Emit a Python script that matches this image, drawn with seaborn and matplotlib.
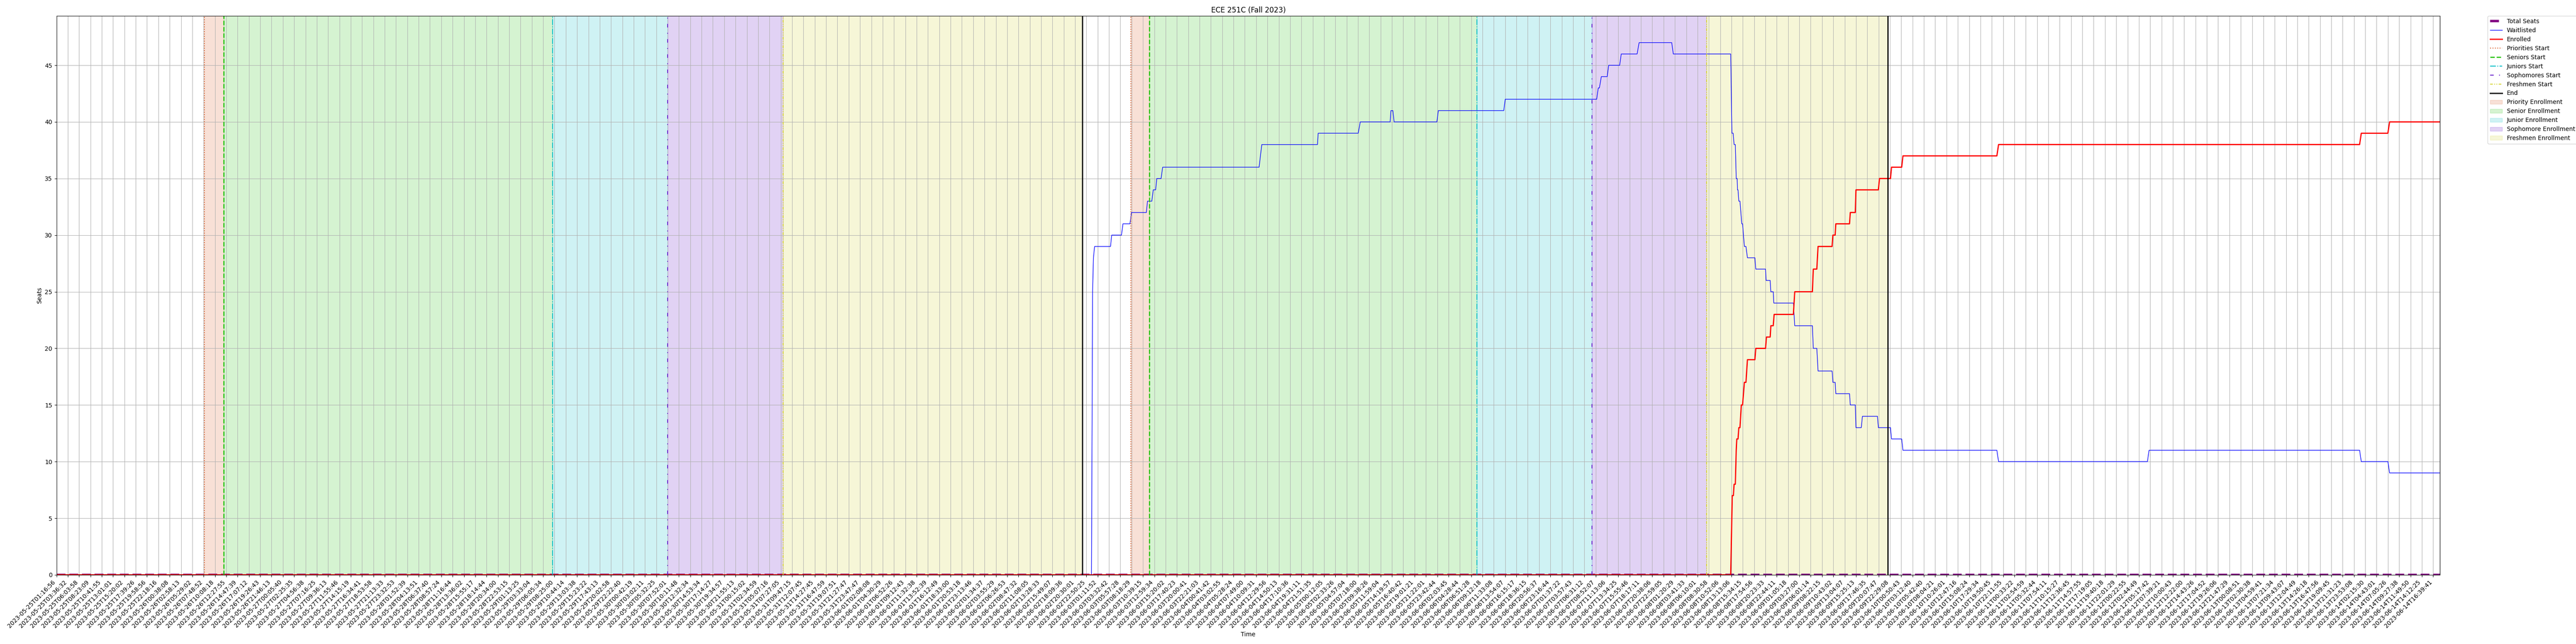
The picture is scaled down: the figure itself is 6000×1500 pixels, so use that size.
import matplotlib
matplotlib.use("Agg")
import matplotlib.pyplot as plt
import matplotlib.ticker as ticker
import numpy as np
import pandas as pd
import seaborn as sns

# tick labels (every tick is one sample position on the categorical time axis)
tick_labels = [
    "2023-05-25T01:16:56", "2023-05-25T03:36:32", "2023-05-25T06:03:58", "2023-05-25T08:23:09",
    "2023-05-25T10:41:55", "2023-05-25T13:01:01", "2023-05-25T15:20:02", "2023-05-25T17:39:26",
    "2023-05-25T19:58:56", "2023-05-25T22:18:16", "2023-05-26T00:38:08", "2023-05-26T02:58:13",
    "2023-05-26T05:29:02", "2023-05-26T07:48:52", "2023-05-26T10:08:18", "2023-05-26T12:27:55",
    "2023-05-26T14:47:39", "2023-05-26T17:07:12", "2023-05-26T19:26:43", "2023-05-26T21:46:13",
    "2023-05-27T00:05:40", "2023-05-27T02:25:35", "2023-05-27T04:56:38", "2023-05-27T07:16:25",
    "2023-05-27T09:36:13", "2023-05-27T11:55:46", "2023-05-27T14:15:19", "2023-05-27T16:34:41",
    "2023-05-27T18:53:58", "2023-05-27T21:13:33", "2023-05-27T23:32:53", "2023-05-28T01:52:39",
    "2023-05-28T04:13:51", "2023-05-28T06:37:40", "2023-05-28T08:57:24", "2023-05-28T11:16:44",
    "2023-05-28T13:36:02", "2023-05-28T15:55:17", "2023-05-28T18:14:44", "2023-05-28T20:34:00",
    "2023-05-28T22:53:15", "2023-05-29T01:13:25", "2023-05-29T03:33:04", "2023-05-29T06:05:34",
    "2023-05-29T08:25:00", "2023-05-29T10:44:14", "2023-05-29T13:03:38", "2023-05-29T15:23:22",
    "2023-05-29T17:43:13", "2023-05-29T20:02:58", "2023-05-29T22:22:40", "2023-05-30T00:42:19",
    "2023-05-30T03:02:11", "2023-05-30T05:32:25", "2023-05-30T07:52:01", "2023-05-30T10:11:48",
    "2023-05-30T12:32:34", "2023-05-30T14:53:34", "2023-05-30T17:14:27", "2023-05-30T19:34:57",
    "2023-05-30T21:55:13", "2023-05-31T00:15:02", "2023-05-31T02:34:59", "2023-05-31T05:07:16",
    "2023-05-31T07:27:05", "2023-05-31T09:47:15", "2023-05-31T12:07:45", "2023-05-31T14:27:45",
    "2023-05-31T16:47:59", "2023-05-31T19:07:51", "2023-05-31T21:27:47", "2023-05-31T23:47:47",
    "2023-06-01T02:08:08", "2023-06-01T04:30:29", "2023-06-01T06:52:26", "2023-06-01T09:12:43",
    "2023-06-01T11:32:38", "2023-06-01T13:52:39", "2023-06-01T16:12:49", "2023-06-01T18:33:00",
    "2023-06-01T20:53:18", "2023-06-01T23:13:46", "2023-06-02T01:34:37", "2023-06-02T03:55:29",
    "2023-06-02T06:26:53", "2023-06-02T08:47:32", "2023-06-02T11:08:05", "2023-06-02T13:28:33",
    "2023-06-02T15:49:07", "2023-06-02T18:09:36", "2023-06-02T20:30:01", "2023-06-02T22:50:25",
    "2023-06-03T01:11:52", "2023-06-03T03:32:42", "2023-06-03T05:57:28", "2023-06-03T08:18:29",
    "2023-06-03T10:39:15", "2023-06-03T12:59:34", "2023-06-03T15:20:02", "2023-06-03T17:40:23",
    "2023-06-03T20:00:41", "2023-06-03T22:21:03", "2023-06-04T00:41:42", "2023-06-04T03:02:55",
    "2023-06-04T05:28:24", "2023-06-04T07:49:00", "2023-06-04T10:09:31", "2023-06-04T12:29:56",
    "2023-06-04T14:50:13", "2023-06-04T17:10:36", "2023-06-04T19:31:11", "2023-06-04T21:51:35",
    "2023-06-05T00:12:05", "2023-06-05T02:33:26", "2023-06-05T04:57:04", "2023-06-05T07:18:00",
    "2023-06-05T09:38:26", "2023-06-05T11:59:04", "2023-06-05T14:19:57", "2023-06-05T16:40:42",
    "2023-06-05T19:01:21", "2023-06-05T21:22:01", "2023-06-05T23:42:44", "2023-06-06T02:03:45",
    "2023-06-06T04:28:44", "2023-06-06T06:51:28", "2023-06-06T09:12:18", "2023-06-06T11:33:08",
    "2023-06-06T13:54:07", "2023-06-06T16:15:17", "2023-06-06T18:36:15", "2023-06-06T20:56:37",
    "2023-06-06T23:16:44", "2023-06-07T01:37:22", "2023-06-07T03:57:43", "2023-06-07T06:31:12",
    "2023-06-07T08:52:07", "2023-06-07T11:13:06", "2023-06-07T13:34:25", "2023-06-07T15:55:46",
    "2023-06-07T18:17:11", "2023-06-07T20:38:06", "2023-06-07T22:59:05", "2023-06-08T01:20:29",
    "2023-06-08T03:41:33", "2023-06-08T06:10:01", "2023-06-08T08:30:58", "2023-06-08T10:52:06",
    "2023-06-08T13:13:06", "2023-06-08T15:34:15", "2023-06-08T17:54:56", "2023-06-08T20:23:33",
    "2023-06-08T22:44:11", "2023-06-09T01:05:18", "2023-06-09T03:27:00", "2023-06-09T06:01:14",
    "2023-06-09T08:22:15", "2023-06-09T10:43:02", "2023-06-09T13:04:07", "2023-06-09T15:25:13",
    "2023-06-09T17:46:35", "2023-06-09T20:07:47", "2023-06-09T22:29:08", "2023-06-10T00:50:43",
    "2023-06-10T03:12:40", "2023-06-10T05:42:40", "2023-06-10T08:04:21", "2023-06-10T10:26:01",
    "2023-06-10T12:47:16", "2023-06-10T15:08:24", "2023-06-10T17:29:34", "2023-06-10T19:50:45",
    "2023-06-10T22:11:55", "2023-06-11T00:33:22", "2023-06-11T02:54:59", "2023-06-11T05:32:44",
    "2023-06-11T07:54:11", "2023-06-11T10:15:27", "2023-06-11T12:36:45", "2023-06-11T14:57:55",
    "2023-06-11T17:19:05", "2023-06-11T19:40:18", "2023-06-11T22:01:29", "2023-06-12T00:22:55",
    "2023-06-12T02:44:49", "2023-06-12T05:17:42", "2023-06-12T07:39:21", "2023-06-12T10:00:43",
    "2023-06-12T12:22:00", "2023-06-12T14:43:26", "2023-06-12T17:04:52", "2023-06-12T19:26:06",
    "2023-06-12T21:47:29", "2023-06-13T00:08:51", "2023-06-13T02:30:38", "2023-06-13T04:59:41",
    "2023-06-13T07:21:34", "2023-06-13T09:43:07", "2023-06-13T12:04:49", "2023-06-13T14:26:18",
    "2023-06-13T16:47:56", "2023-06-13T19:09:45", "2023-06-13T21:31:23", "2023-06-13T23:53:08",
    "2023-06-14T02:15:30", "2023-06-14T04:43:01", "2023-06-14T07:05:26", "2023-06-14T09:27:38",
    "2023-06-14T11:49:50", "2023-06-14T14:12:25", "2023-06-14T16:39:41",
]
x_end = 210.61

# series, x in tick units
seats_x = [0, x_end]
seats_y = [0, 0]

wait_x = [0, 91.45, 91.55, 91.62, 91.73, 93.13, 93.24, 94.10, 94.23, 94.85, 94.99, 96.30,
          96.40, 96.78, 96.91, 97.12, 97.22, 97.60, 97.74, 106.26, 106.50, 111.42, 111.48,
          115.02, 115.20, 117.84, 117.91, 118.08, 118.19, 121.97, 122.10, 127.88, 128.01,
          136.09, 136.23, 136.33, 136.50, 137.02, 137.15, 138.12, 138.26, 139.66, 139.84,
          142.72, 142.86, 147.93, 148.04, 148.15, 148.23, 148.34, 148.42, 148.50, 148.53,
          148.58, 148.65, 148.75, 148.91, 148.98, 149.14, 149.28, 149.41, 150.07, 150.15,
          151.01, 151.06, 151.42, 151.48, 151.69, 151.74, 153.47, 153.59, 155.15, 155.23,
          155.54, 155.65, 156.89, 156.96, 157.16, 157.22, 158.43, 158.50, 158.94, 159.00,
          159.47, 159.57, 160.90, 160.98, 162.05, 162.14, 163.04, 163.15, 171.45, 171.60,
          184.75, 184.90, 203.50, 203.65, 206.00, 206.15, x_end]
wait_y = [0, 0, 25, 28, 29, 29, 30, 30, 31, 31, 32, 32,
          33, 33, 34, 34, 35, 35, 36, 36, 38, 38, 39,
          39, 40, 40, 41, 41, 40, 40, 41, 41, 42,
          42, 43, 43, 44, 44, 45, 45, 46, 46, 47,
          47, 46, 46, 39, 39, 38, 38, 35, 35, 34,
          34, 33, 33, 31, 31, 29, 29, 28, 28, 27,
          27, 26, 26, 25, 25, 24, 24, 22, 22, 20,
          20, 18, 18, 17, 17, 16, 16, 15, 15, 13,
          13, 14, 14, 13, 13, 12, 12, 11, 11, 10,
          10, 11, 11, 10, 10, 9, 9]

enr_x = [0, 147.93, 148.07, 148.17, 148.23, 148.34, 148.42, 148.47, 148.58, 148.65, 148.75,
         148.87, 148.98, 149.14, 149.28, 149.41, 150.07, 150.15, 151.01, 151.09, 151.42,
         151.48, 151.69, 151.77, 153.47, 153.59, 155.15, 155.23, 155.54, 155.65, 156.89,
         156.96, 157.16, 157.22, 158.43, 158.50, 158.94, 159.00, 160.98, 161.08, 162.05,
         162.14, 163.04, 163.15, 171.45, 171.60, 203.50, 203.65, 206.00, 206.15, x_end]
enr_y = [0, 0, 7, 7, 8, 8, 11, 12, 12, 13, 13,
         15, 15, 17, 17, 19, 19, 20, 20, 21, 21,
         22, 22, 23, 23, 25, 25, 27, 27, 29, 29,
         30, 30, 31, 31, 32, 32, 34, 34, 35, 35,
         36, 36, 37, 37, 38, 38, 39, 39, 40, 40]

# enrollment phase starts (tick units), first and second pass
phase_lines = ["Priorities Start", "Seniors Start", "Juniors Start", "Sophomores Start", "Freshmen Start", "End"]
pass1 = [13.05, 14.79, 43.82, 54.0, 64.22, 90.63]
pass2 = [94.93, 96.56, 125.5, 135.66, 145.8, 161.8]
phase_spans = ["Priority Enrollment", "Senior Enrollment", "Junior Enrollment", "Sophomore Enrollment", "Freshmen Enrollment"]

phase_colors = ["#dc6432", "#2ec41a", "#10c0c8", "#6a22cc", "#d6d63a", "black"]
phase_styles = [":", "--", "-.", (0, (4, 6, 1, 6)), (0, (3, 1.5, 1, 1.5, 1, 1.5)), "-"]
phase_widths = [1.5, 2, 1.5, 1.5, 1.5, 2]

fig, ax = plt.subplots(figsize=(60, 15), dpi=100)
fig.subplots_adjust(left=0.02193, right=0.94723, top=0.9751, bottom=0.1074)

sns.lineplot(x=seats_x, y=seats_y, ax=ax, color="purple", lw=4, ls="--",
             estimator=None, sort=False, label="Total Seats")
sns.lineplot(x=wait_x, y=wait_y, ax=ax, color="blue", lw=1,
             estimator=None, sort=False, label="Waitlisted")
sns.lineplot(x=enr_x, y=enr_y, ax=ax, color="red", lw=2,
             estimator=None, sort=False, label="Enrolled")

for n, name in enumerate(phase_lines):
    ax.axvline(pass1[n], color=phase_colors[n], ls=phase_styles[n], lw=phase_widths[n], label=name)
    ax.axvline(pass2[n], color=phase_colors[n], ls=phase_styles[n], lw=phase_widths[n])

for n, name in enumerate(phase_spans):
    ax.axvspan(pass1[n], pass1[n + 1], color=phase_colors[n], alpha=0.2, label=name)
    ax.axvspan(pass2[n], pass2[n + 1], color=phase_colors[n], alpha=0.2)

ax.set_xticks(range(len(tick_labels)))
ax.set_xticklabels(tick_labels, rotation=45, ha="right")
ax.set_xlim(0, x_end)
ax.set_ylim(bottom=0)
ax.yaxis.set_major_locator(ticker.MultipleLocator(5))
ax.grid(True)
ax.set_title("ECE 251C (Fall 2023)")
ax.set_xlabel("Time")
ax.set_ylabel("Seats")
ax.legend(bbox_to_anchor=(1.02, 1), loc="upper left", borderaxespad=0)

fig.savefig("out.png", dpi=100)
